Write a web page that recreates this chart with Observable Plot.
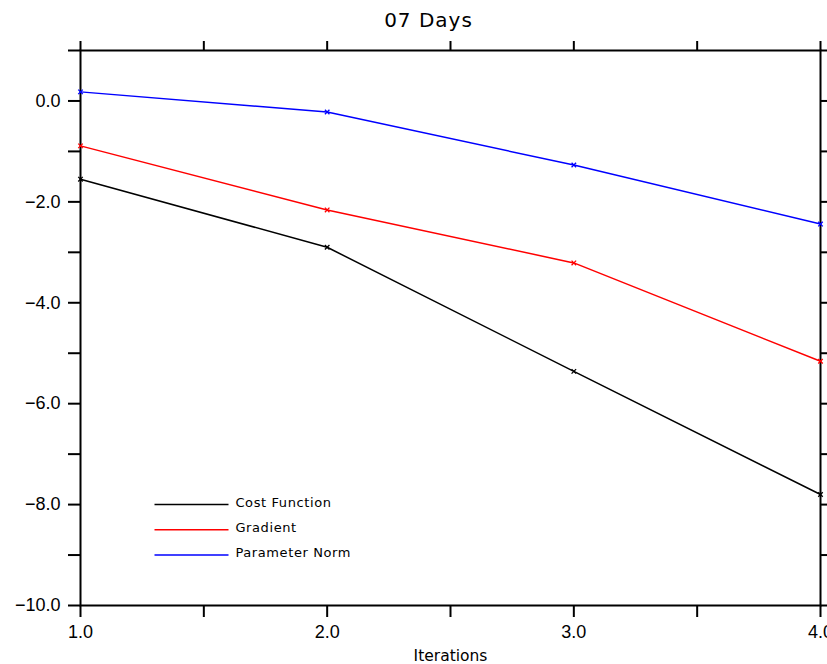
<!DOCTYPE html>
<html>
<head>
<meta charset="utf-8">
<script src="https://cdn.jsdelivr.net/npm/d3@7"></script>
<script src="https://cdn.jsdelivr.net/npm/@observablehq/plot@0.6"></script>
<style>
  html, body { margin: 0; padding: 0; background: #fff; }
  #chart svg { display: block; }
</style>
</head>
<body>
<div id="chart"></div>
<script>
const iterations = [1, 2, 3, 4];
const costFunction = [-1.55, -2.90, -5.36, -7.80];
const gradient = [-0.89, -2.16, -3.21, -5.16];
const parameterNorm = [0.18, -0.22, -1.27, -2.44];
const seriesNames = ["Cost Function", "Gradient", "Parameter Norm"];
const seriesColors = ["#000000", "#ff0000", "#0000ff"];
const xTicks = [1, 1.5, 2, 2.5, 3, 3.5, 4];
const yTicks = [-10, -9, -8, -7, -6, -5, -4, -3, -2, -1, 0, 1];
const title = "07 Days";
const xLabel = "Iterations";

const seriesValues = [costFunction, gradient, parameterNorm];
const data = seriesNames.flatMap((name, i) =>
  iterations.map((it, j) => ({series: name, x: it, y: seriesValues[i][j]}))
);
const legend = seriesNames.map((name, i) => ({name, color: seriesColors[i], y: -8 - 0.5 * i}));

const fmt = d3.format(".1f");
const labelX = d => Number.isInteger(d) ? fmt(d) : "";
const labelY = d => d % 2 === 0 ? fmt(d) : "";
const tickFont = "Liberation Sans, Arial, sans-serif";

const chart = Plot.plot({
  width: 827,
  height: 664,
  marginLeft: 80,
  marginRight: 7,
  marginTop: 50,
  marginBottom: 59,
  style: {fontFamily: tickFont, background: "#fff", overflow: "visible"},
  x: {domain: [1, 4]},
  y: {domain: [-10, 1]},
  color: {domain: seriesNames, range: seriesColors},
  marks: [
    Plot.axisX(xTicks, {anchor: "bottom", tickSize: 12, tickPadding: 8, tickFormat: labelX, label: null, fontSize: 18, strokeWidth: 2, fill: "#000"}),
    Plot.axisX(xTicks, {anchor: "top", tickSize: 10, tickFormat: () => "", label: null, strokeWidth: 2}),
    Plot.axisY(yTicks, {anchor: "left", tickSize: 12, tickPadding: 8, tickFormat: labelY, label: null, fontSize: 18, strokeWidth: 2, fill: "#000"}),
    Plot.axisY(yTicks, {anchor: "right", tickSize: 10, tickFormat: () => "", label: null, strokeWidth: 2}),
    Plot.frame({stroke: "#000", strokeWidth: 2}),
    Plot.line(data, {x: "x", y: "y", stroke: "series", strokeWidth: 1.5}),
    Plot.dot(data, {x: "x", y: "y", stroke: "series", symbol: "times", r: 2.2, strokeWidth: 1.3}),
    Plot.link(legend, {x1: 1.3, x2: 1.6, y1: "y", y2: "y", stroke: "color", strokeWidth: 1.5}),
    Plot.text(legend, {x: 1.628, y: "y", text: "name", textAnchor: "start", fontSize: 13, fontFamily: "DejaVu Sans", fill: "#000", dy: -2, style: "letter-spacing:0.6px"}),
    Plot.text([title], {frameAnchor: "top", lineAnchor: "middle", dx: -22, dy: -30, text: d => d, fontSize: 20, fontFamily: "DejaVu Sans", fill: "#000"}),
    Plot.text([xLabel], {frameAnchor: "bottom", lineAnchor: "middle", dy: 51, text: d => d, fontSize: 15.5, fontFamily: "DejaVu Sans", fill: "#000"})
  ]
});
chart.querySelectorAll("text").forEach(t => {
  if (t.textContent === "Cost Function" || t.textContent === "Gradient" || t.textContent === "Parameter Norm") t.setAttribute("letter-spacing", "0.6");
  if (t.textContent === title) t.setAttribute("letter-spacing", "1");
});
document.getElementById("chart").appendChild(chart);
</script>
</body>
</html>
